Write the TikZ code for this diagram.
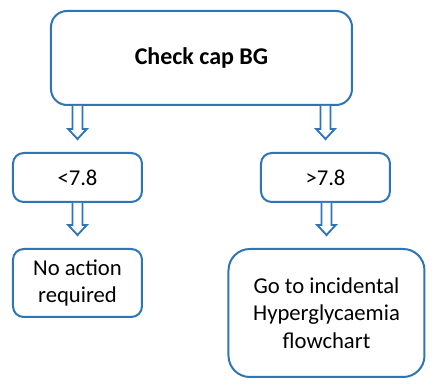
\documentclass[tikz,border=0pt]{standalone}
\usepackage{fontspec}
\setmainfont{Carlito}
\usepackage{tikz}
\usetikzlibrary{positioning,calc}

\definecolor{boxblue}{RGB}{46,117,182}

% hollow block arrow from the bottom of #1 down to just above #2
\newcommand{\blockarrow}[2]{%
  \coordinate (s) at (#2 |- #1.south);
  \coordinate (t) at ($(#2.north)+(0,9.75pt)$);
  \draw[hollow] ($(s)+(-3.75pt,0)$) -- ($(t)+(-3.75pt,7.5pt)$) -- ($(t)+(-7pt,7.5pt)$) -- (t)
    -- ($(t)+(7pt,7.5pt)$) -- ($(t)+(3.75pt,7.5pt)$) -- ($(s)+(3.75pt,0)$);
}

\begin{document}
\begin{tikzpicture}[
  node distance=33.75pt,
  box/.style={draw=boxblue, line width=1.5pt, fill=white, align=center, text=black,
    font=\fontsize{17}{20.5}\selectfont, inner sep=2pt},
  smallbox/.style={box, rounded corners=8pt, minimum width=96.75pt, minimum height=36.75pt},
  hollow/.style={draw=boxblue, line width=1.4pt, fill=white, line join=miter}
]
\useasboundingbox (0,0) rectangle (327.75pt,-288.75pt);

\node[box, rounded corners=12pt, minimum width=225.75pt, minimum height=70.5pt,
  font=\fontsize{18}{21}\selectfont\bfseries] (top) at (151.125pt,-43.5pt) {Check cap BG};
\node[smallbox, below=34.5pt of top.south west, anchor=north west, xshift=-28.5pt] (lt) {<7.8};
\node[smallbox, below=34.5pt of top.south east, anchor=north east, xshift=28.5pt] (rt) {>7.8};
\node[smallbox, below=of lt, minimum height=51pt] (lb) {No action\\required};
\node[box, rounded corners=16pt, below=of rt, xshift=0.75pt, minimum width=147pt, minimum height=96pt] (rb)
  {Go to incidental\\Hyperglycaemia\\flowchart};

\foreach \a/\b in {top/lt, top/rt, lt/lb, rt/rb}
  \blockarrow{\a}{\b};
\end{tikzpicture}
\end{document}
